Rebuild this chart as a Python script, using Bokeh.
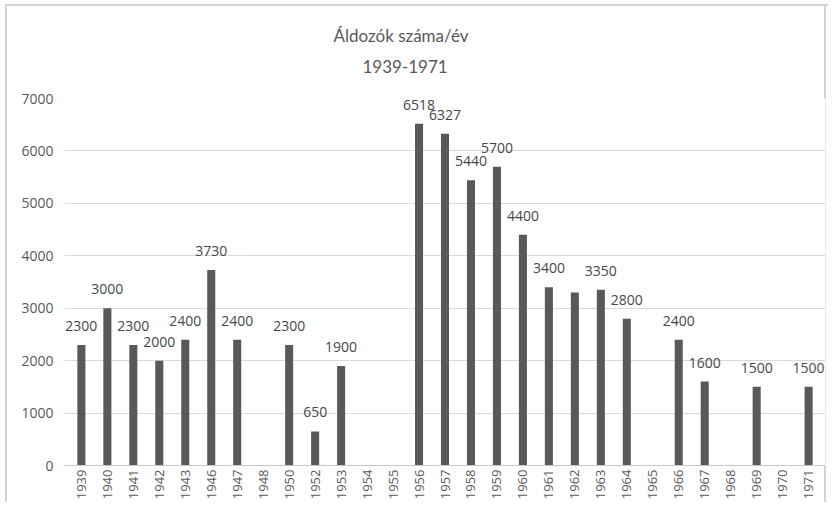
from bokeh.plotting import figure
from bokeh.models import ColumnDataSource, LabelSet, Title, FactorRange, Range1d, FixedTicker
from bokeh.core.properties import value
from bokeh.embed import file_html
from bokeh.resources import INLINE

years = ["1939", "1940", "1941", "1942", "1943", "1946", "1947", "1948", "1950",
         "1952", "1953", "1954", "1955", "1956", "1957", "1958", "1959", "1960",
         "1961", "1962", "1963", "1964", "1965", "1966", "1967", "1968", "1969",
         "1970", "1971"]
victims = [2300, 3000, 2300, 2000, 2400, 3730, 2400, 0, 2300,
           650, 1900, 0, 0, 6518, 6327, 5440, 5700, 4400,
           3400, 3300, 3350, 2800, 0, 2400, 1600, 0, 1500,
           0, 1500]
labels = ["2300", "3000", "2300", "2000", "2400", "3730", "2400", "", "2300",
          "650", "1900", "", "", "6518", "6327", "5440", "5700", "4400",
          "3400", "", "3350", "2800", "", "2400", "1600", "", "1500",
          "", "1500"]
y_ticks = [0, 1000, 2000, 3000, 4000, 5000, 6000, 7000]

src = ColumnDataSource(dict(x=years, y=victims, lab=labels))

p = figure(x_range=FactorRange(*years, range_padding=0.15, range_padding_units="absolute"),
           y_range=Range1d(0, 7000),
           width=828, height=502, output_backend="svg", toolbar_location=None,
           min_border_left=64, min_border_right=3, min_border_bottom=30, min_border_top=98)

p.vbar(x="x", top="y", width=0.31, source=src, color="#595959", line_color=None)

p.add_layout(LabelSet(x="x", y="y", text="lab", source=src, text_align="center",
                      text_baseline="bottom", y_offset=14, text_font=value("Open Sans"),
                      text_font_size="14px", text_color="#474747"))

p.title.text = "Áldozók száma/év"
p.title.align = "left"
p.title.text_font = "Lato"
p.title.text_font_size = "17px"
p.title.text_font_style = "normal"
p.title.text_color = "#595959"
p.title.offset = 269
p.title.standoff = 13
p.add_layout(Title(text=" ", text_font_size="8px"), "above")
p.add_layout(Title(text="1939-1971", align="left", text_font="Lato",
                   text_font_size="17px", text_font_style="normal",
                   text_color="#595959", offset=298), "above")

p.yaxis.ticker = FixedTicker(ticks=y_ticks)
p.yaxis.axis_line_color = None
p.yaxis.major_tick_line_color = None
p.yaxis.major_tick_out = 0
p.yaxis.minor_tick_line_color = None
p.yaxis.major_label_standoff = 11
p.yaxis.major_label_text_font = "Open Sans"
p.yaxis.major_label_text_font_size = "14px"
p.yaxis.major_label_text_color = "#595959"

p.xaxis.axis_line_color = "#c8c8c8"
p.xaxis.major_tick_line_color = None
p.xaxis.major_tick_out = 0
p.xaxis.major_label_orientation = 1.5708
p.xaxis.major_label_standoff = 4
p.xaxis.major_label_text_font = "Open Sans"
p.xaxis.major_label_text_font_size = "13px"
p.xaxis.major_label_text_color = "#595959"

p.xgrid.grid_line_color = None
p.ygrid.grid_line_color = "#d9d9d9"
p.outline_line_color = None
p.background_fill_color = "white"
p.border_fill_alpha = 0
p.styles = {
    "background-color": "white",
    "background-image": "linear-gradient(#d4d4d4,#d4d4d4), linear-gradient(#d4d4d4,#d4d4d4), linear-gradient(#d4d4d4,#d4d4d4)",
    "background-size": "2px 100%, 100% 2px, 2px 100%",
    "background-position": "5px 4px, 5px 4px, 824px 4px",
    "background-repeat": "no-repeat",
}

open("out.html", "w").write(file_html(p, INLINE))
